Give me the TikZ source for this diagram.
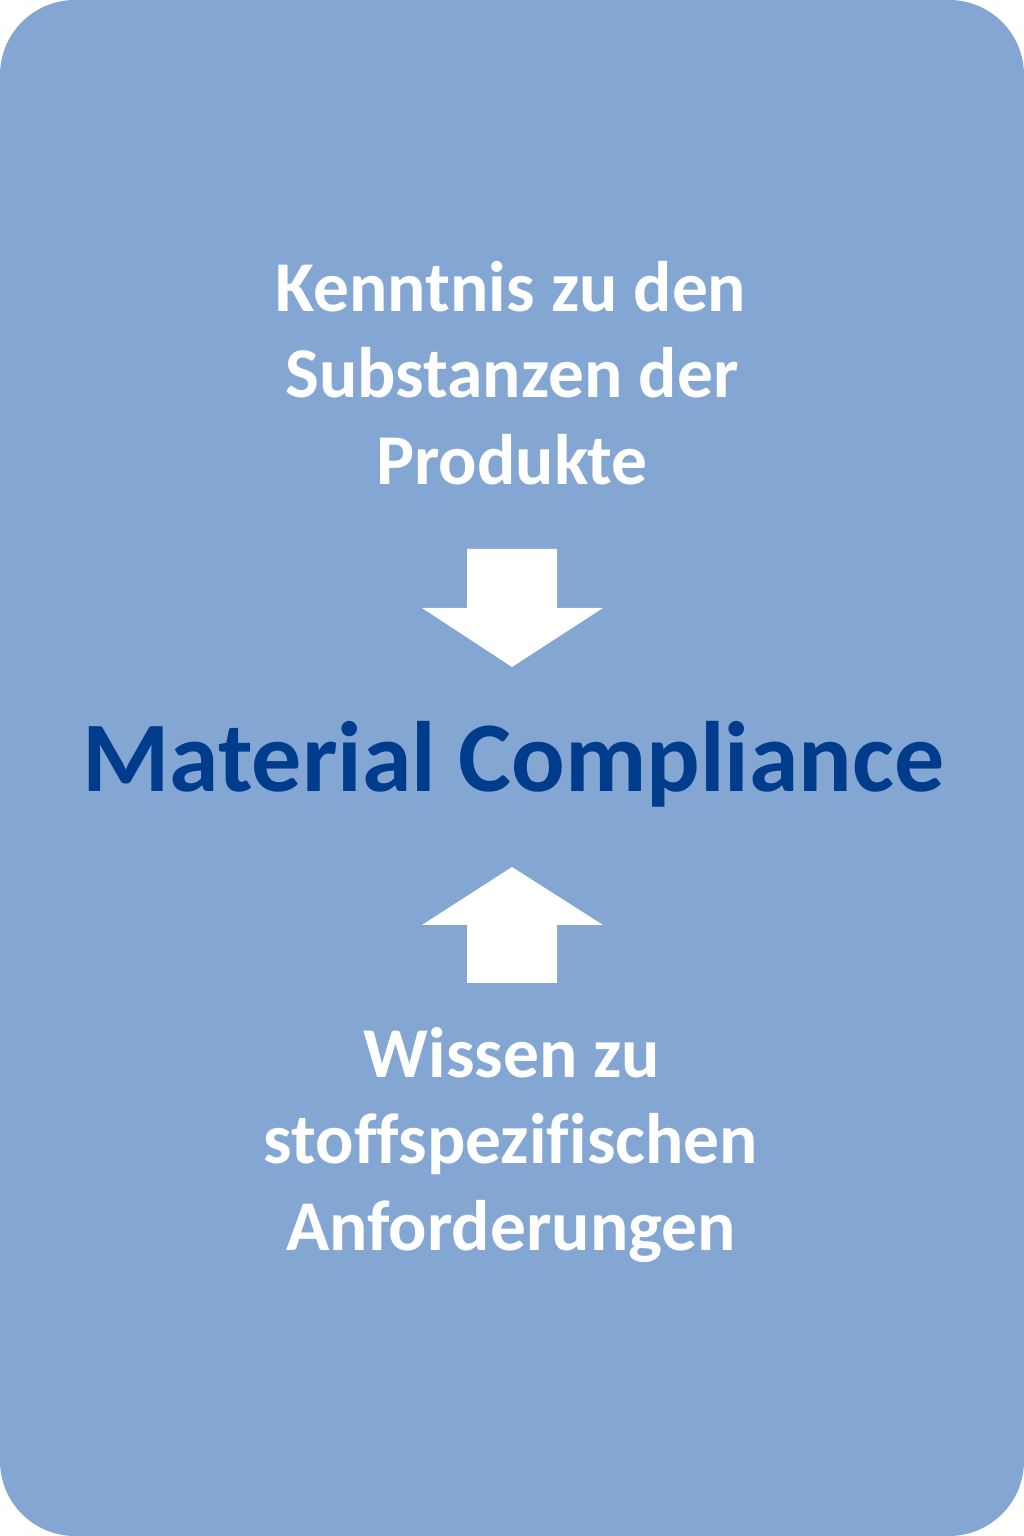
\documentclass[tikz,border=0pt]{standalone}
\usepackage{fontspec}
\setmainfont{Carlito}[Ligatures={NoCommon}]
\definecolor{bg}{HTML}{84A6D3}
\definecolor{navy}{HTML}{003C8C}
\begin{document}
\begin{tikzpicture}[x=1pt,y=1pt,
  wline/.style={text=white,font=\fontsize{71.5}{86}\selectfont\bfseries,anchor=base,inner sep=0pt},
  title/.style={text=navy,font=\fontsize{100}{120}\selectfont\bfseries,anchor=base,inner sep=0pt},
  blockarrow/.style={fill=white,draw=none}]
\useasboundingbox (0,0) rectangle (1024,1536);
\fill[white] (0,0) rectangle (1024,1536);
\fill[bg,rounded corners=75pt] (0,0) rectangle (1024,1536);
% top text
\node[wline] (k1) at (511,1224) {Kenntnis zu den};
\node[wline] (k2) at (512,1138) {Substanzen der};
\node[wline] (k3) at (512,1051) {Produkte};
% down arrow
\fill[blockarrow] (467,987) -- (557,987) -- (557,928) -- (603,928) -- (512,869) -- (422,928) -- (467,928) -- cycle;
% title
\node[title] (mc) at (513.5,744) {Material Compliance};
% up arrow
\fill[blockarrow] (467,553) -- (557,553) -- (557,611) -- (603,611) -- (512,669) -- (422,611) -- (467,611) -- cycle;
% bottom text
\node[wline] (w1) at (512,458) {Wissen zu};
\node[wline] (w2) at (511,372) {stoffspezifischen};
\node[wline] (w3) at (511,285) {Anforderungen};
\end{tikzpicture}
\end{document}
